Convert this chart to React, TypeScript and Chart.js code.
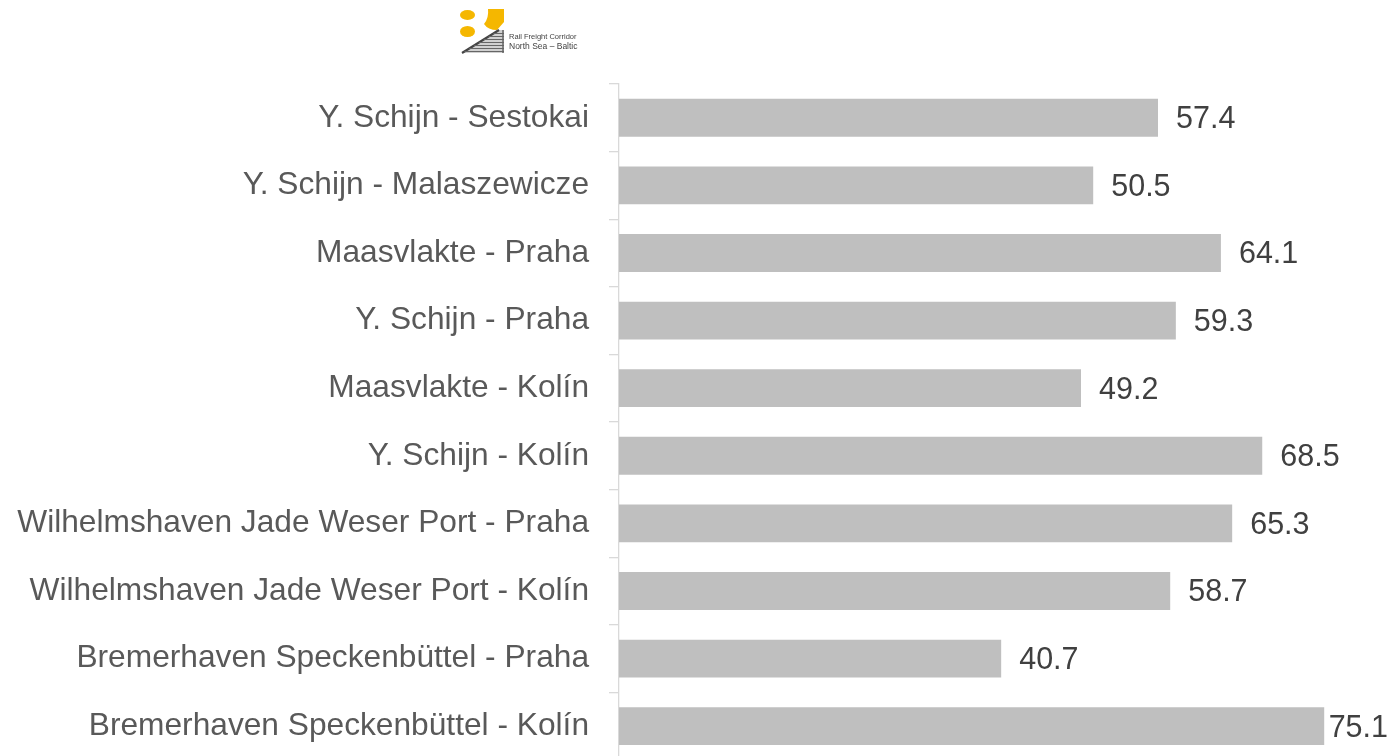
import React, { useEffect, useRef } from "react";
import { Chart, registerables } from "chart.js";

Chart.register(...registerables);

const routes = [
  "Y. Schijn - Sestokai",
  "Y. Schijn - Malaszewicze",
  "Maasvlakte - Praha",
  "Y. Schijn - Praha",
  "Maasvlakte - Kolín",
  "Y. Schijn - Kolín",
  "Wilhelmshaven Jade Weser Port - Praha",
  "Wilhelmshaven Jade Weser Port - Kolín",
  "Bremerhaven Speckenbüttel - Praha",
  "Bremerhaven Speckenbüttel - Kolín",
];

const values = [57.4, 50.5, 64.1, 59.3, 49.2, 68.5, 65.3, 58.7, 40.7, 75.1];

const logoLines = ["Rail Freight Corridor", "North Sea – Baltic"];

const FONT = "'Liberation Sans', Arial, Helvetica, sans-serif";

const valueLabelPlugin = {
  id: "valueLabels",
  afterDatasetsDraw(chart: any) {
    const ctx = chart.ctx;
    const meta = chart.getDatasetMeta(0);
    ctx.save();
    ctx.font = `30.5px ${FONT}`;
    ctx.fillStyle = "#404040";
    ctx.textAlign = "left";
    ctx.textBaseline = "middle";
    meta.data.forEach((bar: any, i: number) => {
      const txt = values[i].toFixed(1);
      const w = ctx.measureText(txt).width;
      const x = Math.min(bar.x + 18, chart.width - 6 - w);
      ctx.fillText(txt, x, bar.y + 2);
    });
    ctx.restore();
  },
};

const logoPlugin = {
  id: "logo",
  afterDraw(chart: any) {
    const ctx = chart.ctx;
    ctx.save();
    ctx.fillStyle = "#f5b700";
    ctx.beginPath();
    ctx.ellipse(467.5, 15, 7.5, 5, 0, 0, Math.PI * 2);
    ctx.fill();
    ctx.beginPath();
    ctx.ellipse(467.5, 31.5, 7.5, 5.5, 0, 0, Math.PI * 2);
    ctx.fill();
    ctx.beginPath();
    ctx.moveTo(488, 9);
    ctx.lineTo(504, 9);
    ctx.lineTo(504, 22);
    ctx.lineTo(497, 30);
    ctx.quadraticCurveTo(488, 30, 484, 24);
    ctx.quadraticCurveTo(489, 18, 488, 9);
    ctx.closePath();
    ctx.fill();
    // rails
    ctx.fillStyle = "#d0d0d0";
    ctx.beginPath();
    ctx.moveTo(462, 53);
    ctx.lineTo(499, 30);
    ctx.lineTo(504, 30);
    ctx.lineTo(504, 53);
    ctx.closePath();
    ctx.fill();
    ctx.strokeStyle = "#444444";
    ctx.lineWidth = 2.2;
    ctx.beginPath();
    ctx.moveTo(462, 53);
    ctx.lineTo(499, 30);
    ctx.stroke();
    ctx.lineWidth = 1;
    ctx.strokeStyle = "#666666";
    for (let k = 0; k < 7; k++) {
      const y = 33.5 + k * 3;
      const xl = 499 - ((y - 30) * 37) / 23;
      ctx.beginPath();
      ctx.moveTo(xl, y);
      ctx.lineTo(504, y);
      ctx.stroke();
    }
    ctx.lineWidth = 1.5;
    ctx.beginPath();
    ctx.moveTo(503, 30);
    ctx.lineTo(503, 53);
    ctx.stroke();
    ctx.fillStyle = "#444444";
    ctx.textAlign = "left";
    ctx.textBaseline = "alphabetic";
    ctx.font = `7.5px ${FONT}`;
    ctx.fillText(logoLines[0], 509, 39);
    ctx.font = `8.5px ${FONT}`;
    ctx.fillText(logoLines[1], 509, 49);
    ctx.restore();
  },
};

export default function App() {
  const ref = useRef<HTMLCanvasElement>(null);
  useEffect(() => {
    const chart = new Chart(ref.current!, {
      type: "bar",
      data: {
        labels: routes,
        datasets: [
          {
            data: values,
            backgroundColor: "#bfbfbf",
            borderWidth: 0,
            barPercentage: 0.56,
            categoryPercentage: 1,
          },
        ],
      },
      options: {
        indexAxis: "y",
        animation: false,
        responsive: false,
        maintainAspectRatio: false,
        layout: { padding: { top: 84, right: 5, bottom: 0, left: 0 } },
        plugins: {
          legend: { display: false },
          tooltip: { enabled: false },
        },
        scales: {
          x: {
            display: false,
            min: 0,
            max: 82,
          },
          y: {
            afterFit(scale: any) {
              scale.width = 619;
            },
            grid: {
              display: true,
              offset: true,
              drawOnChartArea: false,
              tickLength: 10,
              color: "#d9d9d9",
              lineWidth: 1.3,
            },
            border: { display: true, color: "#d9d9d9", width: 1.3 },
            ticks: {
              padding: 20,
              color: "#595959",
              font: { family: FONT, size: 31.7 },
            },
          },
        },
      },
      plugins: [valueLabelPlugin, logoPlugin],
    });
    return () => chart.destroy();
  }, []);
  return (
    <div
      style={{
        position: "fixed",
        left: 0,
        top: 0,
        width: 1394,
        height: 756,
        overflow: "hidden",
        background: "#ffffff",
      }}
    >
      <canvas ref={ref} width={1394} height={799} style={{ display: "block" }} />
    </div>
  );
}
